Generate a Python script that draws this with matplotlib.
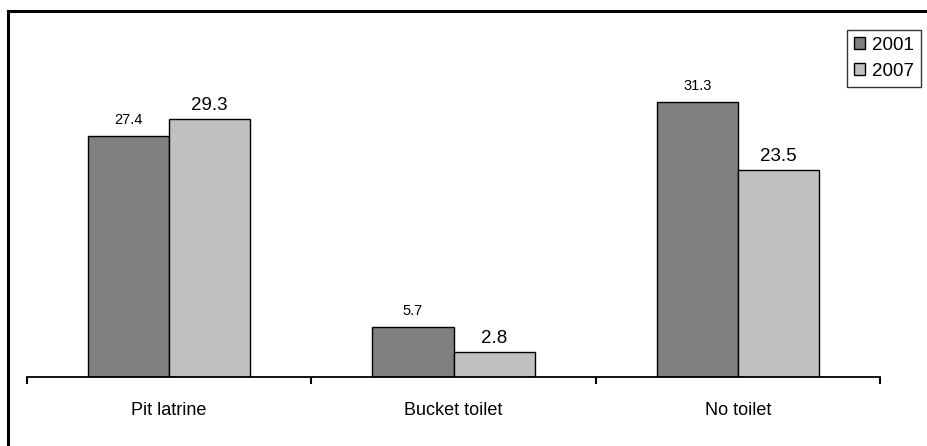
import matplotlib
matplotlib.use("Agg")
import matplotlib.pyplot as plt
from matplotlib.lines import Line2D
from matplotlib.patches import Patch
import numpy as np

plt.rcParams['font.family'] = ['Liberation Sans', 'DejaVu Sans']

categories = ["Pit latrine", "Bucket toilet", "No toilet"]
series_names = ["2001", "2007"]
values_2001 = [27.4, 5.7, 31.3]
values_2007 = [29.3, 2.8, 23.5]
labels_2001 = ["27.4", "5.7", "31.3"]
labels_2007 = ["29.3", "2.8", "23.5"]

fig = plt.figure(figsize=(9.27, 4.46), dpi=100)
ax = fig.add_axes([27/927, 69/446, (880-27)/927, 0.70])

x = np.arange(len(categories))
w = 0.285
c1, c2 = "#808080", "#c0c0c0"
b1 = ax.bar(x - w/2, values_2001, w, color=c1, edgecolor="black", linewidth=1)
b2 = ax.bar(x + w/2, values_2007, w, color=c2, edgecolor="black", linewidth=1)

for rect, lab in zip(b1, labels_2001):
    ax.text(rect.get_x() + rect.get_width()/2, rect.get_height() + 1.0, lab,
            ha="center", va="bottom", fontsize=10.5)
for rect, lab in zip(b2, labels_2007):
    ax.text(rect.get_x() + rect.get_width()/2, rect.get_height() + 0.6, lab,
            ha="center", va="bottom", fontsize=13.5)

ax.set_xlim(-0.5, 2.5)
ax.set_ylim(0, 35.5)
for s in ["top", "right", "left"]:
    ax.spines[s].set_visible(False)
ax.spines["bottom"].set_linewidth(1.3)
ax.set_yticks([])
ax.set_xticks([-0.5, 0.5, 1.5, 2.5])
ax.set_xticklabels([])
ax.tick_params(axis="x", length=5, width=1.5, direction="out")
ax.set_xticks(x, minor=True)
ax.set_xticklabels(categories, minor=True, fontsize=13)
ax.tick_params(axis="x", which="minor", length=0, pad=18)

handles = [Patch(facecolor=c1, edgecolor="black", label=series_names[0]),
           Patch(facecolor=c2, edgecolor="black", label=series_names[1])]
leg = fig.legend(handles=handles, loc="upper right", bbox_to_anchor=(921/927, 1 - 30/446),
                 fontsize=13.5, frameon=True, fancybox=False, handlelength=0.6,
                 handleheight=0.6, handletextpad=0.4, borderpad=0.35, labelspacing=0.5,
                 borderaxespad=0)
leg.get_frame().set_edgecolor("black")
leg.get_frame().set_linewidth(1)

# outer border (cropped frame)
fig.add_artist(Line2D([8/927, 8/927], [0, 1 - 11/446], transform=fig.transFigure,
                      color="black", linewidth=2.2, solid_capstyle="projecting"))
fig.add_artist(Line2D([8/927, 1], [1 - 11/446, 1 - 11/446], transform=fig.transFigure,
                      color="black", linewidth=2.2, solid_capstyle="projecting"))

fig.savefig("out.png", dpi=100)
